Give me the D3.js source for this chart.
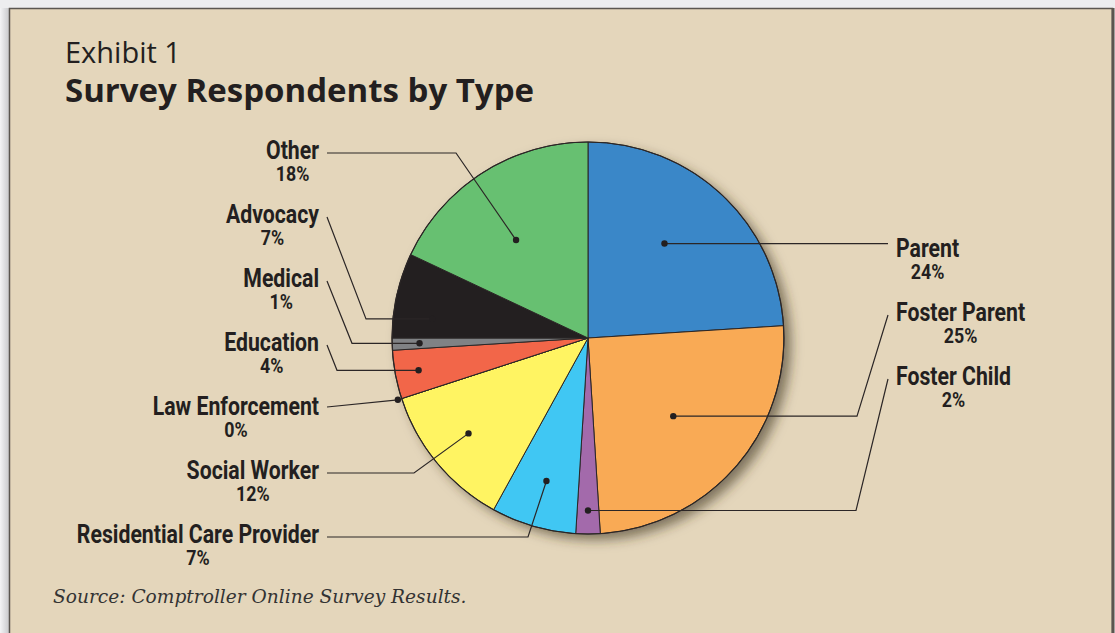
<!DOCTYPE html>
<html>
<head>
<meta charset="utf-8">
<script src="https://cdn.jsdelivr.net/npm/d3@7"></script>
<style>
  body { margin: 0; background: #ededef; }
  svg { display: block; }
</style>
</head>
<body>
<svg id="chart" width="1115" height="633"></svg>
<script>
// respondent types, clockwise from 12 o'clock
var categories = ["Parent", "Foster Parent", "Foster Child", "Residential Care Provider", "Social Worker",
                  "Law Enforcement", "Education", "Medical", "Advocacy", "Other"];
var percents = [24, 25, 2, 7, 12, 0, 4, 1, 7, 18];
var percentLabels = ["24%", "25%", "2%", "7%", "12%", "0%", "4%", "1%", "7%", "18%"];

var colors = ["#3a87c8", "#f9aa55", "#a36aab", "#40c7f3", "#fff462",
              "#f9aa55", "#f26649", "#808285", "#231f20", "#67c071"];

// where each label sits and how its leader line bends
// side, row (64px apart), dot radius as share of pie radius, elbow x, elbow mode
var leaders = {
    "Parent":                    { side: "right", row: 0, dotR: 0.62, ang: 39, mode: "flat" },
    "Foster Parent":             { side: "right", row: 1, dotR: 0.59, ang: 132.5, elbow: 857, mode: "dot" },
    "Foster Child":              { side: "right", row: 2, dotR: 0.88, elbow: 856, mode: "dot" },
    "Other":                     { side: "left", row: 0, dotR: 0.62, ang: 323.7, elbow: 456, mode: "label" },
    "Advocacy":                  { side: "left", row: 1, dotR: 0.8, ang: 277, elbow: 366, mode: "dot" },
    "Medical":                   { side: "left", row: 2, dotR: 0.86, elbow: 352, mode: "dot" },
    "Education":                 { side: "left", row: 3, dotR: 0.88, elbow: 337, mode: "dot" },
    "Law Enforcement":           { side: "left", row: 4, dotR: 1.02, mode: "none" },
    "Social Worker":             { side: "left", row: 5, dotR: 0.78, ang: 231.4, elbow: 414, mode: "label" },
    "Residential Care Provider": { side: "left", row: 6, dotR: 0.76, elbow: 528, mode: "label" }
};

var W = 1115, H = 633;
var cx = 588, cy = 338, radius = 196;
var ink = "#231f20";
var condense = 0.85;

var svg = d3.select("#chart");

// outer page + frame
var defs = svg.append("defs");
var shade = defs.append("linearGradient").attr("id", "edge").attr("x1", 0).attr("x2", 1);
shade.append("stop").attr("offset", 0).attr("stop-color", "#f4f4f6");
shade.append("stop").attr("offset", 1).attr("stop-color", "#c9c9cc");
svg.append("rect").attr("width", W).attr("height", H).attr("fill", "#ededef");
svg.append("rect").attr("x", 0).attr("y", 8).attr("width", 9).attr("height", H).attr("fill", "url(#edge)");

svg.append("rect")
    .attr("x", 9.5).attr("y", 8.5)
    .attr("width", 1103).attr("height", H)
    .attr("fill", "#e4d6bb")
    .attr("stroke", "#5b5650").attr("stroke-width", 1.5);
svg.append("line").attr("x1", 1113).attr("x2", 1113).attr("y1", 8).attr("y2", H)
    .attr("stroke", "#5b5650").attr("stroke-width", 3);

var shadow = defs.append("filter").attr("id", "pieShadow")
    .attr("x", "-20%").attr("y", "-20%").attr("width", "140%").attr("height", "140%");
shadow.append("feDropShadow")
    .attr("dx", 7).attr("dy", 6).attr("stdDeviation", 6)
    .attr("flood-color", "#3a3020").attr("flood-opacity", 0.6);

// titles
svg.append("text").attr("x", 65).attr("y", 63)
    .style("font-family", "'Open Sans', sans-serif").style("font-size", "29px")
    .attr("fill", ink).text("Exhibit 1");
svg.append("text").attr("x", 65).attr("y", 102)
    .style("font-family", "'Open Sans', sans-serif").style("font-size", "33px").style("font-weight", 700)
    .attr("fill", ink).text("Survey Respondents by Type");

svg.append("text").attr("x", 53).attr("y", 603)
    .style("font-family", "'DejaVu Serif', serif").style("font-size", "18.6px").style("font-style", "italic")
    .attr("fill", "#333").text("Source: Comptroller Online Survey Results.");

// pie
var data = categories.map(function(c, i) {
    return { name: c, value: percents[i], label: percentLabels[i], color: colors[i] };
});

var pie = d3.pie().sort(null).value(function(d) { return d.value; });
var arc = d3.arc().innerRadius(0).outerRadius(radius);
var arcs = pie(data);

var pieG = svg.append("g").attr("transform", "translate(" + cx + "," + cy + ")");

pieG.append("circle").attr("r", radius).attr("fill", "#e4d6bb")
    .attr("filter", "url(#pieShadow)");

pieG.selectAll(".slice")
    .data(arcs)
    .join("path")
    .attr("class", "slice")
    .attr("d", arc)
    .attr("fill", function(d) { return d.data.color; })
    .attr("stroke", "#2b2626")
    .attr("stroke-width", 1)
    .attr("stroke-linejoin", "round");

pieG.append("circle").attr("r", radius).attr("fill", "none")
    .attr("stroke", "#2b2626").attr("stroke-width", 1.2);

// labels and leaders
var lineG = svg.append("g");
var labelG = svg.append("g");

arcs.forEach(function(a) {
    var lay = leaders[a.data.name];
    var mid = lay.ang !== undefined ? lay.ang * Math.PI / 180 : (a.startAngle + a.endAngle) / 2;
    var dot = [cx + Math.sin(mid) * radius * lay.dotR, cy - Math.cos(mid) * radius * lay.dotR];

    var left = lay.side === "left";
    var base = left ? 159 + 64 * lay.row : 257 + 64 * lay.row;
    var tx = left ? 319 : 896;

    // name and percent as one text, percent centred under the name
    var label = labelG.append("text")
        .attr("transform", "translate(" + tx + "," + base + ") scale(" + condense + ",1)")
        .style("font-family", "Roboto, sans-serif").style("font-weight", 700)
        .attr("fill", ink);
    var first = label.append("tspan")
        .attr("x", 0).attr("y", 0)
        .attr("text-anchor", left ? "end" : "start")
        .style("font-size", "25px")
        .text(a.data.name);
    var w = first.node().getComputedTextLength();
    label.append("tspan")
        .attr("x", left ? -w / 2 : w / 2).attr("y", 22)
        .attr("text-anchor", "middle")
        .style("font-size", "21px")
        .text(a.data.label);

    var sx = left ? 327 : 888;
    var sy = base - 6;
    var pts;
    if (lay.mode === "flat") pts = [[sx, dot[1]], dot];
    else if (lay.mode === "label") pts = [[sx, sy], [lay.elbow, sy], dot];
    else if (lay.mode === "dot") pts = [[sx, sy], [lay.elbow, dot[1]], dot];
    else pts = [[sx, sy - 2], dot];

    lineG.append("path")
        .attr("d", d3.line()(pts))
        .attr("fill", "none")
        .attr("stroke", "#2b2626")
        .attr("stroke-width", 1.2);
    lineG.append("circle")
        .attr("cx", dot[0]).attr("cy", dot[1]).attr("r", 3.2)
        .attr("fill", "#231f20");
});
</script>
</body>
</html>
